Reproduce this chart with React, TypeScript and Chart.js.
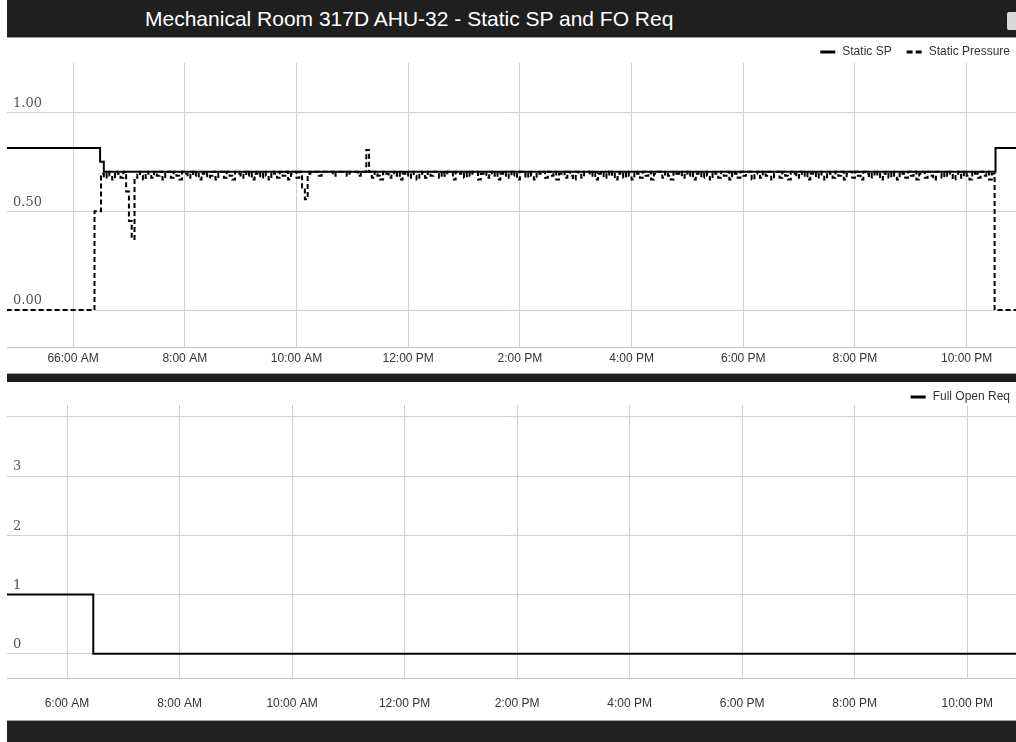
import React, { useEffect, useRef } from 'react';
import { Chart, registerables } from 'chart.js';

Chart.register(...registerables);

// ---------- Data (x values are minutes after midnight) ----------
const titleText = 'Mechanical Room 317D AHU-32 - Static SP and FO Req';

const topTickValues = [360, 480, 600, 720, 840, 960, 1080, 1200, 1320];
const topTickLabels = ['66:00 AM', '8:00 AM', '10:00 AM', '12:00 PM', '2:00 PM', '4:00 PM', '6:00 PM', '8:00 PM', '10:00 PM'];
const bottomTickValues = [360, 480, 600, 720, 840, 960, 1080, 1200, 1320];
const bottomTickLabels = ['6:00 AM', '8:00 AM', '10:00 AM', '12:00 PM', '2:00 PM', '4:00 PM', '6:00 PM', '8:00 PM', '10:00 PM'];

const topYTicks = [0, 0.5, 1];
const topYLabels = ['0.00', '0.50', '1.00'];
const bottomYTicks = [0, 1, 2, 3, 4];
const bottomYLabels = ['0', '1', '2', '3', ''];

// Static SP (solid, stepped)
const spTimes = [280, 389, 393, 1351, 1390];
const spValues = [0.82, 0.75, 0.70, 0.82, 0.82];

// Static Pressure (dashed, stepped)
const pressureLeadTimes = [280, 383];
const pressureLeadValues = [0, 0.5];
const pressureGridStart = 390; // 6:30 AM, 3-minute samples
const pressureGridStep = 3;
const pressureValues = [
  0.69, 0.67, 0.70, 0.68, 0.66, 0.70, 0.69, 0.67, 0.70, 0.60, 0.45, 0.36, 0.67, 0.70, 0.68, 0.66, 0.70, 0.69, 0.67, 0.70,
  0.68, 0.70, 0.66, 0.69, 0.70, 0.67, 0.70, 0.68, 0.66, 0.70, 0.69, 0.67, 0.70, 0.68, 0.70, 0.66, 0.69, 0.70, 0.67, 0.68,
  0.70, 0.66, 0.69, 0.70, 0.67, 0.70, 0.68, 0.66, 0.70, 0.69, 0.67, 0.70, 0.68, 0.70, 0.66, 0.69, 0.70, 0.67, 0.70, 0.68,
  0.66, 0.70, 0.69, 0.67, 0.70, 0.68, 0.70, 0.66, 0.69, 0.70, 0.67, 0.70, 0.62, 0.56, 0.69, 0.70, 0.70, 0.70, 0.68, 0.70,
  0.70, 0.70, 0.70, 0.68, 0.70, 0.70, 0.70, 0.70, 0.68, 0.70, 0.70, 0.70, 0.68, 0.70, 0.70, 0.81, 0.70, 0.67, 0.70, 0.68,
  0.66, 0.70, 0.69, 0.67, 0.70, 0.68, 0.70, 0.66, 0.69, 0.70, 0.67, 0.70, 0.68, 0.66, 0.70, 0.69, 0.67, 0.70, 0.68, 0.70,
  0.70, 0.67, 0.70, 0.68, 0.70, 0.70, 0.66, 0.70, 0.69, 0.70, 0.67, 0.70, 0.68, 0.70, 0.70, 0.66, 0.69, 0.70, 0.67, 0.70,
  0.68, 0.70, 0.66, 0.69, 0.70, 0.67, 0.70, 0.68, 0.70, 0.66, 0.70, 0.69, 0.67, 0.70, 0.68, 0.66, 0.70, 0.69, 0.70, 0.67,
  0.70, 0.68, 0.70, 0.66, 0.69, 0.70, 0.67, 0.70, 0.68, 0.66, 0.70, 0.69, 0.67, 0.70, 0.70, 0.68, 0.70, 0.66, 0.69, 0.70,
  0.67, 0.70, 0.68, 0.70, 0.66, 0.69, 0.70, 0.67, 0.70, 0.68, 0.66, 0.70, 0.69, 0.67, 0.70, 0.68, 0.70, 0.66, 0.69, 0.70,
  0.70, 0.67, 0.70, 0.68, 0.66, 0.70, 0.69, 0.70, 0.67, 0.70, 0.68, 0.70, 0.66, 0.69, 0.70, 0.67, 0.70, 0.68, 0.66, 0.70,
  0.69, 0.67, 0.70, 0.68, 0.70, 0.66, 0.70, 0.69, 0.67, 0.70, 0.68, 0.70, 0.70, 0.66, 0.69, 0.70, 0.67, 0.70, 0.68, 0.70,
  0.66, 0.69, 0.70, 0.67, 0.70, 0.68, 0.66, 0.70, 0.69, 0.67, 0.70, 0.68, 0.70, 0.66, 0.69, 0.70, 0.67, 0.70, 0.68, 0.66,
  0.70, 0.69, 0.67, 0.70, 0.68, 0.70, 0.66, 0.69, 0.70, 0.67, 0.70, 0.68, 0.66, 0.70, 0.69, 0.67, 0.70, 0.68, 0.70, 0.66,
  0.69, 0.70, 0.67, 0.70, 0.68, 0.66, 0.70, 0.69, 0.67, 0.70, 0.68, 0.70, 0.66, 0.69, 0.70, 0.67, 0.70, 0.68, 0.66, 0.70,
  0.69, 0.67, 0.70, 0.68, 0.70, 0.66, 0.69, 0.70, 0.67, 0.70, 0.68, 0.66, 0.70, 0.69, 0.67, 0.70, 0.68, 0.70, 0.66, 0.69,
];
const pressureTailTimes = [1350, 1390];
const pressureTailValues = [0, 0];

// Full Open Req (solid, stepped)
const forTimes = [280, 388, 1390];
const forValues = [1, 0, 0];

// ---------- helpers ----------
const zip = (xs: number[], ys: number[]) => xs.map((x, i) => ({ x, y: ys[i] }));

const pressureData = [
  ...zip(pressureLeadTimes, pressureLeadValues),
  ...pressureValues.map((y, i) => ({ x: pressureGridStart + i * pressureGridStep, y })),
  ...zip(pressureTailTimes, pressureTailValues),
];

const cornerLegend = {
  id: 'cornerLegend',
  afterDraw(chart: any, _args: any, opts: any) {
    const ctx = chart.ctx as CanvasRenderingContext2D;
    ctx.save();
    ctx.font = '12px "Liberation Sans", Arial, sans-serif';
    ctx.textBaseline = 'middle';
    ctx.textAlign = 'left';
    let x = chart.width - opts.right;
    const items = chart.data.datasets.slice().reverse();
    for (const ds of items) {
      const w = ctx.measureText(ds.label).width;
      x -= w;
      ctx.fillStyle = '#333';
      ctx.fillText(ds.label, x, opts.y);
      x -= 7;
      ctx.beginPath();
      ctx.setLineDash(ds.borderDash && ds.borderDash.length ? [6, 3] : []);
      ctx.lineWidth = 3;
      ctx.strokeStyle = '#000';
      ctx.moveTo(x - 15, opts.y);
      ctx.lineTo(x, opts.y);
      ctx.stroke();
      x -= 15 + 15;
    }
    ctx.restore();
  },
};

const gridColor = '#d0d0d0';

function makeOptions(cfg: {
  xmin: number; xmax: number; ymin: number; ymax: number;
  xTicks: number[]; xLabels: string[]; yTicks: number[]; yLabels: string[];
  xPad: number; padTop: number; padBottom: number; legendY: number;
}) {
  return {
    animation: false,
    responsive: false,
    maintainAspectRatio: false,
    events: [],
    layout: { padding: { top: cfg.padTop, bottom: cfg.padBottom, left: 0, right: 0 } },
    plugins: {
      legend: { display: false },
      tooltip: { enabled: false },
      cornerLegend: { y: cfg.legendY, right: 6 },
    },
    elements: { point: { radius: 0 } },
    scales: {
      x: {
        type: 'linear',
        min: cfg.xmin,
        max: cfg.xmax,
        afterBuildTicks: (scale: any) => {
          scale.ticks = cfg.xTicks.map((v) => ({ value: v }));
        },
        ticks: {
          autoSkip: false,
          maxRotation: 0,
          padding: cfg.xPad,
          color: '#333',
          font: { family: '"Liberation Sans", Arial, sans-serif', size: 12 },
          callback: (_v: any, i: number) => cfg.xLabels[i],
        },
        grid: { color: gridColor, drawTicks: false, lineWidth: 1 },
        border: { display: true, color: '#c4c4c4', width: 1 },
      },
      y: {
        type: 'linear',
        position: 'left',
        min: cfg.ymin,
        max: cfg.ymax,
        afterBuildTicks: (scale: any) => {
          scale.ticks = cfg.yTicks.map((v) => ({ value: v }));
        },
        ticks: {
          mirror: true,
          padding: 6,
          labelOffset: -9,
          color: '#555',
          font: { family: '"DejaVu Serif", "Liberation Serif", serif', size: 13 },
          callback: (_v: any, i: number) => cfg.yLabels[i],
        },
        grid: { color: gridColor, drawTicks: false, lineWidth: 1 },
        border: { display: false },
      },
    },
  } as any;
}

export default function App() {
  const topRef = useRef<HTMLCanvasElement>(null);
  const bottomRef = useRef<HTMLCanvasElement>(null);

  useEffect(() => {
    const top = new Chart(topRef.current as HTMLCanvasElement, {
      type: 'line',
      data: {
        datasets: [
          {
            label: 'Static SP',
            data: zip(spTimes, spValues),
            borderColor: '#000',
            borderWidth: 2,
            stepped: true,
            pointRadius: 0,
            fill: false,
          },
          {
            label: 'Static Pressure',
            data: pressureData,
            borderColor: '#000',
            borderWidth: 2,
            borderDash: [5, 3],
            stepped: true,
            pointRadius: 0,
            fill: false,
          },
        ],
      } as any,
      options: makeOptions({
        xmin: 289, xmax: 1373, ymin: -0.19, ymax: 1.25,
        xTicks: topTickValues, xLabels: topTickLabels,
        yTicks: topYTicks, yLabels: topYLabels,
        xPad: 4, padTop: 25, padBottom: 2, legendY: 14,
      }),
      plugins: [cornerLegend],
    });

    const bottom = new Chart(bottomRef.current as HTMLCanvasElement, {
      type: 'line',
      data: {
        datasets: [
          {
            label: 'Full Open Req',
            data: zip(forTimes, forValues),
            borderColor: '#000',
            borderWidth: 2,
            stepped: true,
            pointRadius: 0,
            fill: false,
          },
        ],
      } as any,
      options: makeOptions({
        xmin: 296, xmax: 1372, ymin: -0.42, ymax: 4.2,
        xTicks: bottomTickValues, xLabels: bottomTickLabels,
        yTicks: bottomYTicks, yLabels: bottomYLabels,
        xPad: 18, padTop: 20, padBottom: 0, legendY: 12,
      }),
      plugins: [cornerLegend],
    });

    return () => {
      top.destroy();
      bottom.destroy();
    };
  }, []);

  return (
    <div style={{ position: 'fixed', left: 0, top: 0, width: 1016, height: 742, background: '#fff', overflow: 'hidden' }}>
      <canvas ref={topRef} width={1021} height={334} style={{ position: 'absolute', left: -5, top: 38, display: 'block' }} />
      <canvas ref={bottomRef} width={1021} height={344} style={{ position: 'absolute', left: -5, top: 385, display: 'block' }} />
      <div style={{ position: 'absolute', left: 7, top: 0, width: 1009, height: 37, background: '#1f1f1f', borderBottom: '1px solid #9a9a9a' }} />
      <div
        style={{
          position: 'absolute', left: 145, top: 6, height: 26, lineHeight: '26px', color: '#fff',
          fontFamily: '"Liberation Sans", Arial, sans-serif', fontSize: 21, whiteSpace: 'nowrap',
        }}
      >
        {titleText}
      </div>
      <div style={{ position: 'absolute', left: 1007, top: 12, width: 12, height: 18, background: '#d8d8d8', borderRadius: 2 }} />
      <div style={{ position: 'absolute', left: 7, top: 373, width: 1009, height: 8, background: '#1f1f1f', borderTop: '1px solid #a0a0a0' }} />
      <div style={{ position: 'absolute', left: 7, top: 720, width: 1009, height: 22, background: '#222', borderTop: '1px solid #a0a0a0' }} />
    </div>
  );
}
